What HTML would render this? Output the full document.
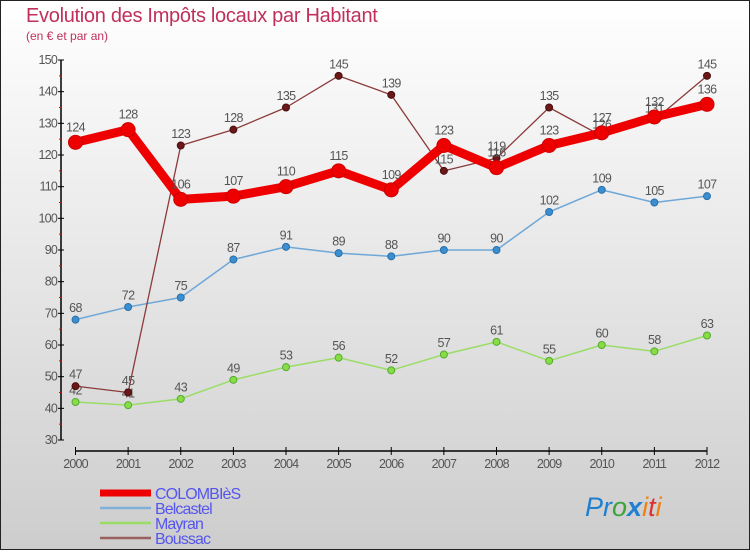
<!DOCTYPE html>
<html><head><meta charset="utf-8"><style>
html,body{margin:0;padding:0}
body{width:750px;height:550px;overflow:hidden}
svg text{font-family:"Liberation Sans","DejaVu Sans",sans-serif}
</style></head><body>
<svg id="chart" width="750" height="550" xmlns="http://www.w3.org/2000/svg">
<defs><linearGradient id="bg" x1="0" y1="0" x2="0" y2="1"><stop offset="0" stop-color="#ffffff"/><stop offset="1" stop-color="#cdcdcd"/></linearGradient></defs>
<rect x="0.5" y="0.5" width="749" height="549" fill="url(#bg)" stroke="#222" stroke-width="1"/>
<text x="26" y="22" font-size="20" fill="#c0305a" letter-spacing="-0.3">Evolution des Impôts locaux par Habitant</text>
<text x="26" y="40" font-size="12" fill="#c0305a">(en € et par an)</text>
<g id="axes"></g><g id="series"></g><g id="legend"></g>
<text x="585" y="516" font-size="27" font-family="Liberation Sans" font-style="italic"><tspan fill="#1f7fd0">Pr</tspan><tspan fill="#3aa33a">o</tspan><tspan fill="#1f7fd0" font-weight="bold">x</tspan><tspan fill="#f08010">i</tspan><tspan fill="#e03030">t</tspan><tspan fill="#f08010">i</tspan></text>
</svg>
<script>
const years=["2000","2001","2002","2003","2004","2005","2006","2007","2008","2009","2010","2011","2012"];
const colombies=[124,128,106,107,110,115,109,123,116,123,127,132,136];
const belcastel=[68,72,75,87,91,89,88,90,90,102,109,105,107];
const mayran=[42,41,43,49,53,56,52,57,61,55,60,58,63];
const boussac=[47,45,123,128,135,145,139,115,119,135,126,131,145];
const yTicks=[30,40,50,60,70,80,90,100,110,120,130,140,150];
const NS="http://www.w3.org/2000/svg";
const yMin=30,yMax=150,yTop=60,yBot=440;
const x=i=>75.5+i*(707-75.5)/(years.length-1);
const y=v=>yBot-(v-yMin)*(yBot-yTop)/(yMax-yMin);
function mk(tag,attrs,parent,txt){const e=document.createElementNS(NS,tag);for(const k in attrs)e.setAttribute(k,attrs[k]);if(txt!==undefined)e.textContent=txt;parent.appendChild(e);return e;}
const axes=document.getElementById('axes');
let e=mk('line',{x1:61,y1:yTop,x2:61,y2:yBot,stroke:'#000','stroke-width':1.5},axes);


yTicks.forEach(t=>{
 let l=mk('line',{x1:58,y1:y(t),x2:64,y2:y(t),stroke:'#000'},axes);
 
 
 let tx=mk('text',{x:57,y:y(t)+4,'font-size':12.5,fill:'#555','text-anchor':'end','letter-spacing':'-0.8'},axes,String(t));
 
 
 if(t<yMax){let m=mk('line',{x1:59,y1:y(t+5),x2:62,y2:y(t+5),stroke:'#e00'},axes);
 
 }
});
e=mk('line',{x1:75.5,y1:451,x2:707,y2:451,stroke:'#000','stroke-width':1.5},axes);


years.forEach((yr,i)=>{
 let l=mk('line',{x1:x(i),y1:447,x2:x(i),y2:455,stroke:'#000'},axes);
 
 
 let tx=mk('text',{x:x(i),y:468,'font-size':12.5,fill:'#555','text-anchor':'middle','letter-spacing':'-0.8'},axes,yr);
 
 
});
const sg=document.getElementById('series');
function draw(name,vals,color,w,r,dot,stroke){
 const g=mk('g',{},sg);
 
 
 const p=mk('polyline',{points:vals.map((v,i)=>x(i)+','+y(v)).join(' '),fill:'none',stroke:color,'stroke-width':w,'stroke-linejoin':'round'},g);
 
 
 vals.forEach((v,i)=>{
  const c=mk('circle',{cx:x(i),cy:y(v),r:r,fill:dot,stroke:stroke,'stroke-width':1},g);
  
  
  const t=mk('text',{x:x(i),y:y(v)-(r+4),'font-size':12.5,fill:'#555','text-anchor':'middle','letter-spacing':'-0.6'},g,String(v));
  
  
 });
}
draw('mayran',mayran,'#99dd66',1.5,3.5,'#88dd44','#55aa33');
draw('belcastel',belcastel,'#6fa8d8',1.5,3.5,'#3b8fd0','#2a6fa8');
draw('boussac',boussac,'#8b3a3a',1.3,3.5,'#6b1818','#4a0e0e');
draw('colombies',colombies,'#ee0000',9,7,'#ee0000','#cc0000');
const lg=document.getElementById('legend');
const items=[['COLOMBIèS','#ee0000',7],['Belcastel','#80b0d8',2.5],['Mayran','#99dd66',2.5],['Boussac','#9a6060',2.5]];
items.forEach((it,i)=>{
 const yy=493+i*15;
 const l=mk('line',{x1:100,y1:yy,x2:151,y2:yy,stroke:it[1],'stroke-width':it[2]},lg);
 
 
 const t=mk('text',{x:155,y:yy+6,'font-size':16,fill:'#5555ee','letter-spacing':'-0.9'},lg,it[0]);
 
 
});
</script>
</body></html>
